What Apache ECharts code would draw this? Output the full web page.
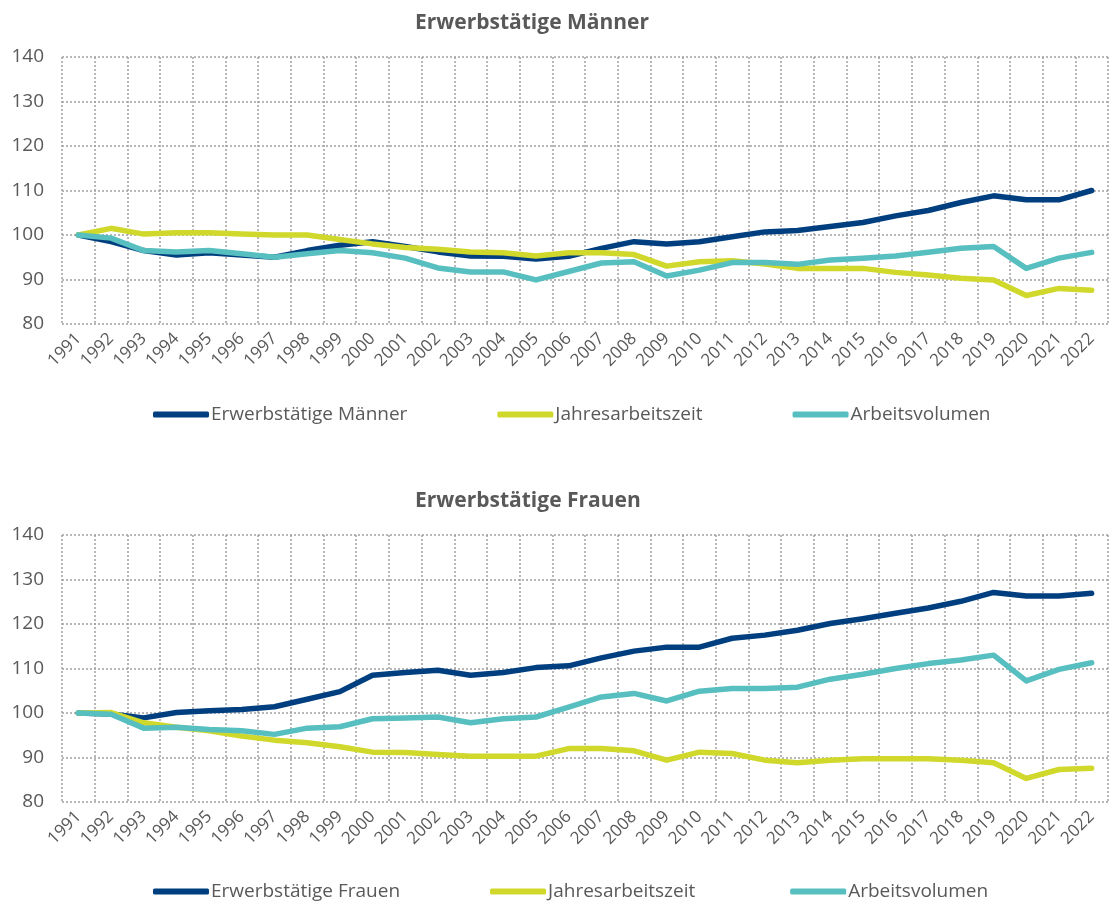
<!DOCTYPE html>
<html>
<head>
<meta charset="utf-8">
<script src="https://cdn.jsdelivr.net/npm/echarts@6/dist/echarts.min.js"></script>
<style>
  html, body { margin: 0; padding: 0; background: #fff; }
  #chart { width: 1112px; height: 906px; }
</style>
</head>
<body>
<div id="chart"></div>
<script>
// Jahre (Index 1991 = 100)
const years = ["1991","1992","1993","1994","1995","1996","1997","1998","1999","2000","2001","2002","2003","2004","2005","2006","2007","2008","2009","2010","2011","2012","2013","2014","2015","2016","2017","2018","2019","2020","2021","2022"];

// Männer
const maennerErwerbstaetige = [100,98.5,96.5,95.5,96,95.5,95,96.5,97.7,98.5,97.4,96.2,95.3,95.2,94.6,95.2,97,98.5,98,98.5,99.6,100.7,101,101.9,102.8,104.3,105.5,107.3,108.8,107.9,107.9,110];
const maennerJahresarbeitszeit = [100,101.5,100.2,100.5,100.5,100.2,100,100,99,98,97.2,96.8,96.2,96,95.3,96,96,95.6,93,94,94.2,93.5,92.5,92.5,92.5,91.6,91,90.3,89.9,86.4,88,87.6];
const maennerArbeitsvolumen = [100,99.3,96.5,96.2,96.5,95.8,95,95.8,96.5,96,94.8,92.6,91.7,91.7,89.9,91.8,93.7,94,90.8,92.1,93.8,93.8,93.4,94.4,94.8,95.3,96.1,97,97.4,92.5,94.8,96.1];

// Frauen
const frauenErwerbstaetige = [100,99.8,98.9,100.1,100.5,100.8,101.4,103.1,104.8,108.5,109.1,109.6,108.5,109.1,110.2,110.6,112.4,113.9,114.8,114.8,116.8,117.5,118.6,120.1,121.2,122.4,123.6,125.1,127.1,126.3,126.3,126.9];
const frauenJahresarbeitszeit = [100,100.1,97.8,96.8,96,94.8,93.9,93.3,92.4,91.2,91.1,90.7,90.3,90.3,90.3,92,92,91.5,89.4,91.2,90.9,89.4,88.8,89.4,89.7,89.7,89.7,89.4,88.8,85.3,87.3,87.6];
const frauenArbeitsvolumen = [100,99.7,96.6,96.8,96.3,96,95.2,96.6,96.9,98.7,98.9,99.1,97.8,98.7,99.1,101.3,103.6,104.4,102.7,104.9,105.5,105.5,105.8,107.6,108.7,110,111.1,111.9,113,107.2,109.8,111.3];

const yTicks = [80, 90, 100, 110, 120, 130, 140];

const FONT = "'Source Sans Pro', 'Liberation Sans Narrow', 'Open Sans', sans-serif";
const GREY = "#595959";
const colors = { erw: "#003f7f", jaz: "#cfd82b", avol: "#57bfbf" };

const chart = echarts.init(document.getElementById("chart"));

function xAxisFor(idx) {
  return {
    type: "category",
    gridIndex: idx,
    data: years,
    boundaryGap: true,
    axisLine: { show: false },
    axisTick: { show: false },
    axisLabel: {
      rotate: 45,
      interval: 0,
      margin: 12,
      color: GREY,
      fontSize: 17,
      fontFamily: FONT,
    },
    splitLine: {
      show: true,
      interval: 0,
      lineStyle: { color: "#a0a0a0", width: 1.5, type: [2, 2] },
    },
  };
}

function yAxisFor(idx) {
  return {
    type: "value",
    gridIndex: idx,
    min: yTicks[0],
    max: yTicks[yTicks.length - 1],
    interval: 10,
    axisLine: { show: false },
    axisTick: { show: false },
    axisLabel: { color: GREY, fontSize: 19, fontFamily: FONT, margin: 18 },
    splitLine: {
      show: true,
      lineStyle: { color: "#a0a0a0", width: 1.5, type: [2, 2] },
    },
  };
}

function lineSeries(name, data, color, idx) {
  return {
    name: name,
    type: "line",
    xAxisIndex: idx,
    yAxisIndex: idx,
    data: data,
    symbol: "none",
    color: color,
    lineStyle: { width: 5.5, color: color, cap: "round", join: "round" },
    animation: false,
  };
}

function legendFor(names, top) {
  return {
    top: top,
    left: 148,
    itemWidth: 56,
    itemHeight: 6,
    itemGap: 90,
    icon: "roundRect",
    data: names,
    textStyle: { color: GREY, fontSize: 19, fontFamily: FONT, padding: [0, 0, 0, -3] },
  };
}

const option = {
  backgroundColor: "#fff",
  animation: false,
  title: [
    {
      text: "Erwerbstätige Männer",
      left: 410,
      top: 8,
      textStyle: { color: GREY, fontSize: 21, fontWeight: "bold", fontFamily: FONT },
    },
    {
      text: "Erwerbstätige Frauen",
      left: 410,
      top: 486,
      textStyle: { color: GREY, fontSize: 21, fontWeight: "bold", fontFamily: FONT },
    },
  ],
  legend: [
    legendFor(["Erwerbstätige Männer", "Jahresarbeitszeit", "Arbeitsvolumen"], 400),
    legendFor(["Erwerbstätige Frauen", "Jahresarbeitszeit ", "Arbeitsvolumen "], 877),
  ],
  grid: [
    { left: 62, right: 4, top: 57, height: 267 },
    { left: 62, right: 4, top: 535, height: 267 },
  ],
  xAxis: [xAxisFor(0), xAxisFor(1)],
  yAxis: [yAxisFor(0), yAxisFor(1)],
  series: [
    lineSeries("Erwerbstätige Männer", maennerErwerbstaetige, colors.erw, 0),
    lineSeries("Jahresarbeitszeit", maennerJahresarbeitszeit, colors.jaz, 0),
    lineSeries("Arbeitsvolumen", maennerArbeitsvolumen, colors.avol, 0),
    lineSeries("Erwerbstätige Frauen", frauenErwerbstaetige, colors.erw, 1),
    lineSeries("Jahresarbeitszeit ", frauenJahresarbeitszeit, colors.jaz, 1),
    lineSeries("Arbeitsvolumen ", frauenArbeitsvolumen, colors.avol, 1),
  ],
};

chart.setOption(option);
</script>
</body>
</html>
